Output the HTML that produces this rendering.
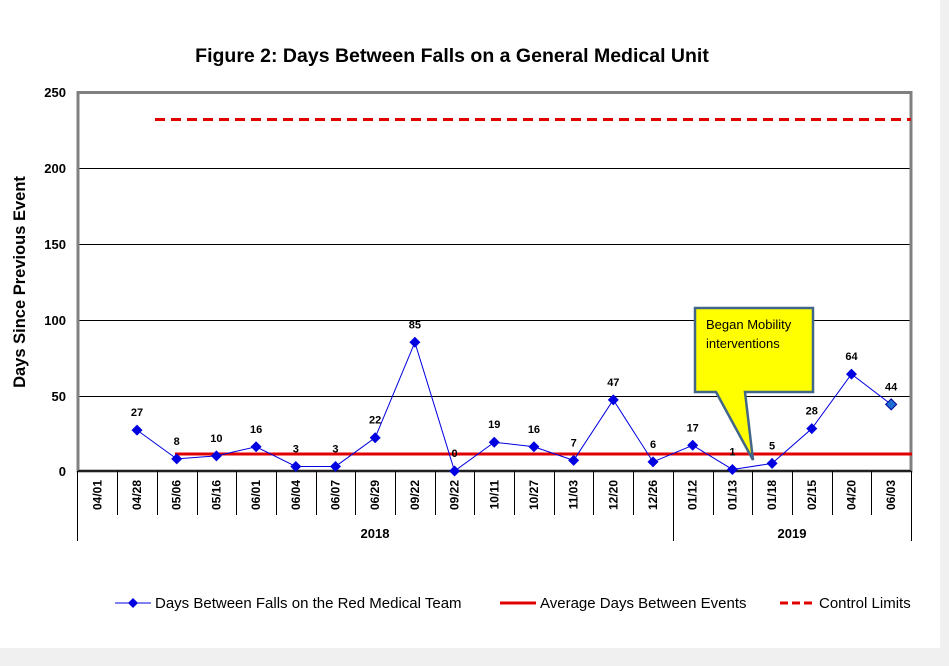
<!DOCTYPE html>
<html><head><meta charset="utf-8"><style>
body{margin:0;background:#f0f0f0;}
svg{display:block;font-family:"Liberation Sans",Arial,sans-serif;}
</style></head><body>
<svg width="949" height="666" viewBox="0 0 949 666">
<rect x="0" y="0" width="940" height="648" fill="#fff"/>
<text x="452" y="62" text-anchor="middle" font-size="19.5" font-weight="bold">Figure 2: Days Between Falls on a General Medical Unit</text>
<g stroke="#000" stroke-width="1">
<line x1="78" y1="168.5" x2="911" y2="168.5"/>
<line x1="78" y1="244.5" x2="911" y2="244.5"/>
<line x1="78" y1="320.5" x2="911" y2="320.5"/>
<line x1="78" y1="396.5" x2="911" y2="396.5"/>
</g>
<rect x="78" y="92.5" width="833" height="378.5" fill="none" stroke="#808080" stroke-width="3"/>
<line x1="78" y1="471" x2="911" y2="471" stroke="#000" stroke-width="1.5"/>
<g font-size="13" font-weight="bold" text-anchor="end">
<text x="66" y="97">250</text><text x="66" y="173">200</text><text x="66" y="249">150</text><text x="66" y="325">100</text><text x="66" y="401">50</text><text x="66" y="476">0</text>
</g>
<text transform="translate(25,282) rotate(-90)" text-anchor="middle" font-size="16.5" font-weight="bold">Days Since Previous Event</text>
<g id="ticks" stroke="#000" stroke-width="1"></g>
<g id="labels" font-size="12" font-weight="bold"></g>
<line x1="77.5" y1="471" x2="77.5" y2="541" stroke="#000"/>
<line x1="673.5" y1="515" x2="673.5" y2="541" stroke="#000"/>
<line x1="911.5" y1="471" x2="911.5" y2="541" stroke="#000"/>
<text x="375" y="538" text-anchor="middle" font-size="13" font-weight="bold">2018</text>
<text x="792" y="538" text-anchor="middle" font-size="13" font-weight="bold">2019</text>
<line x1="155" y1="119.5" x2="911" y2="119.5" stroke="#e00000" stroke-width="3" stroke-dasharray="10,6"/>
<line x1="175" y1="454" x2="912" y2="454" stroke="#e00000" stroke-width="3"/>
<polyline id="series" fill="none" stroke="#0000e0" stroke-width="1"/>
<g id="pts"></g>
<path d="M695,308 H813 V392 H745 L753,460 L716,392 H695 Z" fill="#ffff00" stroke="#41668a" stroke-width="2.5"/>
<text x="706" y="329" font-size="13">Began Mobility</text>
<text x="706" y="348" font-size="13">interventions</text>
<g font-size="15">
<line x1="115" y1="603" x2="151" y2="603" stroke="#0000e0"/>
<path d="M133,598 L138,603 L133,608 L128,603 Z" fill="#0000e0"/>
<text x="155" y="608">Days Between Falls on the Red Medical Team</text>
<line x1="500" y1="603" x2="536" y2="603" stroke="#e00000" stroke-width="3"/>
<text x="540" y="608">Average Days Between Events</text>
<line x1="780" y1="603" x2="813" y2="603" stroke="#e00000" stroke-width="3" stroke-dasharray="8,4"/>
<text x="819" y="608">Control Limits</text>
</g>
</svg>
<script>
var cats=["04/01","04/28","05/06","05/16","06/01","06/04","06/07","06/29","09/22","09/22","10/11","10/27","11/03","12/20","12/26","01/12","01/13","01/18","02/15","04/20","06/03"];
var vals=[null,27,8,10,16,3,3,22,85,0,19,16,7,47,6,17,1,5,28,64,44];
var ns="http://www.w3.org/2000/svg",w=(911-77.5)/21;
function el(t,a,p,txt){var e=document.createElementNS(ns,t);for(var k in a)e.setAttribute(k,a[k]);if(txt!=null)e.textContent=txt;document.getElementById(p).appendChild(e);}
var pts=[];
for(var i=0;i<21;i++){var cx=77.5+w*(i+0.5);
if(i>0)el("line",{x1:Math.round(77.5+w*i)+0.5,y1:471,x2:Math.round(77.5+w*i)+0.5,y2:515},"ticks");
el("text",{transform:"translate("+(cx+4)+",480) rotate(-90)","text-anchor":"end"},"labels",cats[i]);
if(vals[i]!=null){var y=471-vals[i]*378.5/250;pts.push(cx+","+y);
el("path",{d:"M"+cx+","+(y-5.5)+" L"+(cx+5.5)+","+y+" L"+cx+","+(y+5.5)+" L"+(cx-5.5)+","+y+" Z",fill:i==20?"#1f6fd0":"#0000e0",stroke:i==20?"#0000a0":"none"},"pts");
el("text",{x:cx,y:y-14,"text-anchor":"middle","font-size":"11","font-weight":"bold"},"pts",vals[i]);}}
document.getElementById("series").setAttribute("points",pts.join(" "));
</script>
</body></html>
